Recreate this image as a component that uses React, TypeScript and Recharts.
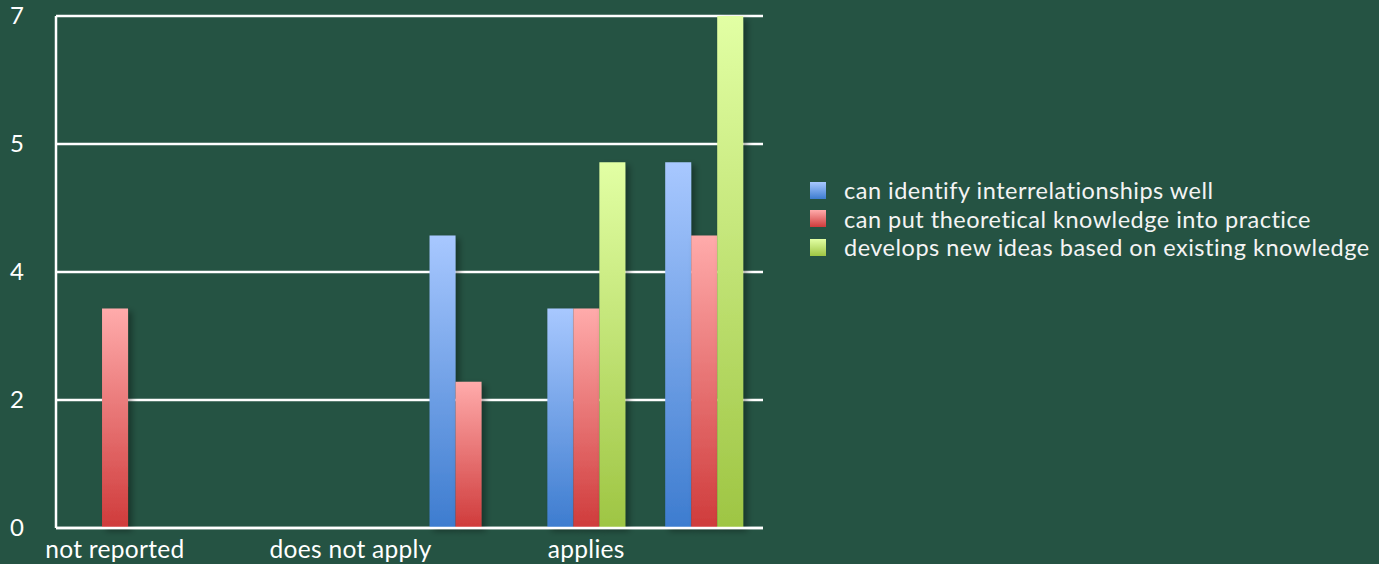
import { Bar, BarChart, CartesianGrid, Legend, XAxis, YAxis } from "recharts"

const categories = ["not reported", "does not apply at all", "does not apply", "partly applies", "applies", "fully applies"]
const interrelations = [0, 0, 0, 4, 3, 5]
const theoryPractice = [3, 0, 0, 2, 3, 4]
const newIdeas = [0, 0, 0, 0, 5, 7]
const yTicks = [0, 1.75, 3.5, 5.25, 7]
const yTickLabels = ["0", "2", "4", "5", "7"]

const seriesNames = [
    "can identify interrelationships well",
    "can put theoretical knowledge into practice",
    "develops new ideas based on existing knowledge",
]

const FONT = "Lato, 'Open Sans', sans-serif"
const BG = "#255343"

const data = categories.map((c, i) => ({
    name: c,
    a: interrelations[i],
    b: theoryPractice[i],
    c: newIdeas[i],
}))

const gradients = [
    { id: "gBlue", top: "#a8c8ff", bottom: "#3d7ccf" },
    { id: "gRed", top: "#ffabab", bottom: "#cf3b3b" },
    { id: "gGreen", top: "#e2ffa4", bottom: "#9ec543" },
]

function YTick({ y, payload, index }: any) {
    return (
        <text x={24} y={y} dy={8} textAnchor="end" fill="#ffffff" fontSize={24} fontFamily={FONT}>
            {yTickLabels[index] ?? payload.value}
        </text>
    )
}

function XTick({ x, y, payload }: any) {
    return (
        <text x={x} y={y} dy={22} textAnchor="middle" fill="#ffffff" fontSize={24.5} letterSpacing={0.3} fontFamily={FONT}>
            {payload.value}
        </text>
    )
}

function LegendBox() {
    return (
        <div style={{ fontFamily: FONT, fontSize: 23.5, letterSpacing: 0.5, color: "#f4f4f4" }}>
            {seriesNames.map((n, i) => (
                <div key={n} style={{ display: "flex", alignItems: "center", height: 28.5 }}>
                    <div
                        style={{
                            width: 16,
                            height: 17,
                            marginRight: 18,
                            flexShrink: 0,
                            background: `linear-gradient(${gradients[i].top}, ${gradients[i].bottom})`,
                        }}
                    />
                    <div style={{ whiteSpace: "nowrap", height: 28, lineHeight: "28px" }}>{n}</div>
                </div>
            ))}
        </div>
    )
}

export default function App() {
    return (
        <div style={{ position: "absolute", left: 0, top: 0, width: 1379, height: 564, background: BG }}>
            <BarChart
                width={1379}
                height={564}
                data={data}
                margin={{ top: 16, right: 616, bottom: 6, left: 0 }}
                barCategoryGap="17%"
                barGap={0}
            >
                <defs>
                    {gradients.map(g => (
                        <linearGradient key={g.id} id={g.id} x1="0" y1="0" x2="0" y2="1">
                            <stop offset="0%" stopColor={g.top} />
                            <stop offset="100%" stopColor={g.bottom} />
                        </linearGradient>
                    ))}
                    <filter id="shadow" x="-20%" y="-5%" width="160%" height="115%">
                        <feDropShadow dx="4" dy="3" stdDeviation="3" floodColor="#000000" floodOpacity="0.35" />
                    </filter>
                </defs>
                <CartesianGrid vertical={false} stroke="#ffffff" strokeWidth={2.5} strokeOpacity={1} />
                <XAxis
                    dataKey="name"
                    height={30}
                    interval={1}
                    tickLine={false}
                    axisLine={{ stroke: "#ffffff", strokeWidth: 2.5 }}
                    tick={<XTick />}
                />
                <YAxis
                    width={56}
                    domain={[0, 7]}
                    ticks={yTicks}
                    tickLine={false}
                    axisLine={{ stroke: "#ffffff", strokeWidth: 2.5 }}
                    tick={<YTick />}
                />
                <Legend
                    layout="horizontal"
                    verticalAlign="middle"
                    align="center"
                    wrapperStyle={{ left: 810, top: 176, width: 569 }}
                    content={() => <LegendBox />}
                />
                <Bar dataKey="a" name={seriesNames[0]} fill="url(#gBlue)" filter="url(#shadow)" isAnimationActive={false} />
                <Bar dataKey="b" name={seriesNames[1]} fill="url(#gRed)" filter="url(#shadow)" isAnimationActive={false} />
                <Bar dataKey="c" name={seriesNames[2]} fill="url(#gGreen)" filter="url(#shadow)" isAnimationActive={false} />
            </BarChart>
        </div>
    )
}
